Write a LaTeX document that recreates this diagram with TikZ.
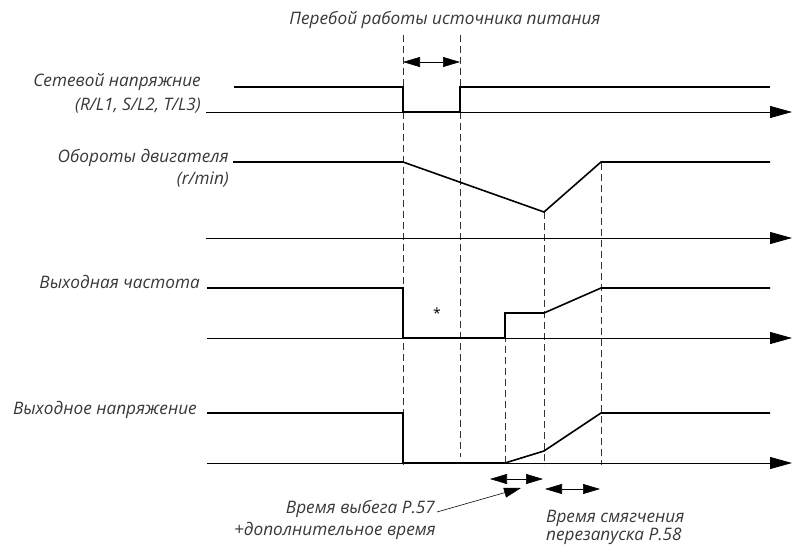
\documentclass[tikz,border=0pt]{standalone}
\usepackage{fontspec}
\setmainfont{Open Sans}
\usetikzlibrary{arrows.meta}
\begin{document}
\begin{tikzpicture}[x=1pt,y=-1pt,
  sig/.style={line width=1.6pt,line join=miter},
  ax/.style={line width=0.8pt,-{Triangle[length=22pt,width=12pt]}},
  guide/.style={line width=0.8pt,dash pattern=on 7pt off 4pt,black!80},
  dim/.style={line width=0.6pt,{Triangle[length=17pt,width=10pt]}-{Triangle[length=17pt,width=10pt]}},
  lbl/.style={font=\fontsize{17.2}{19}\selectfont\itshape,inner sep=0pt,text=black!78},
]
\useasboundingbox (0,0) rectangle (794,545);
% guides
\draw[guide] (403,35) -- (403,465);
\draw[guide] (460,35) -- (460,457);
\draw[guide] (505,313) -- (505,465);
\draw[guide] (544,212) -- (544,465);
\draw[guide] (601,163) -- (601,465);
% axes
\coordinate (a1s) at (206,112); \coordinate (a1e) at (792,112);
\coordinate (a2s) at (206,238); \coordinate (a2e) at (792,238);
\coordinate (a3s) at (207,338); \coordinate (a3e) at (792,338);
\coordinate (a4s) at (207,463); \coordinate (a4e) at (792,463);
\draw[ax] (a1s) -- (a1e);
\draw[ax] (a2s) -- (a2e);
\draw[ax] (a3s) -- (a3e);
\draw[ax] (a4s) -- (a4e);
% signals
\draw[sig] (234,87) -- (403,87) -- (403,112) -- (460,112) -- (460,87) -- (770,87);
\draw[sig] (233,162) -- (403,162) -- (544,212) -- (601,162) -- (770,162);
\draw[sig] (207,288) -- (403,288) -- (403,338) -- (505,338) -- (505,313) -- (544,313) -- (601,288) -- (770,288);
\draw[sig] (207,413) -- (403,413) -- (403,463) -- (505,463) -- (544,451) -- (601,413) -- (770,413);
% dimension arrows
\coordinate (d1a) at (403,62); \coordinate (d1b) at (460,62);
\coordinate (d2a) at (490,479); \coordinate (d2b) at (543,479);
\coordinate (d3a) at (545,489); \coordinate (d3b) at (600,489);
\draw[dim] (d1a) -- (d1b);
\draw[dim] (d2a) -- (d2b);
\draw[dim] (d3a) -- (d3b);
% labels
\node[lbl,anchor=base] (title) at (445,25) {Перебой работы источника питания};
\node[lbl,anchor=base east] (l1a) at (201,87) {Сетевой напряжние};
\node[lbl,anchor=base east] (l1b) at (201,111) {(R/L1, S/L2, T/L3)};
\node[lbl,anchor=base east] (l2a) at (229,163) {Обороты двигателя};
\node[lbl,anchor=base east] (l2b) at (229,185) {(r/min)};
\node[lbl,anchor=base east] (l3) at (200,288) {Выходная частота};
\node[lbl,anchor=base east] (l4) at (197,414) {Выходное напряжение};
\node[font=\fontsize{14}{16}\selectfont,inner sep=0pt] (star) at (437,313) {*};
\node[lbl,anchor=base east] (t1a) at (435,513) {Время выбега P.57};
\node[lbl,anchor=base east] (t1b) at (436,535) {+дополнительное время};
\node[lbl,anchor=base west] (t2a) at (546,522) {Время смягчения};
\node[lbl,anchor=base west] (t2b) at (546,540) {перезапуска P.58};
\coordinate (ptip) at (521,488);
\draw[line width=0.6pt,-{Triangle[length=17pt,width=10pt]}] (t1a.base east) ++(2,-1) -- (ptip);
\end{tikzpicture}
\end{document}
